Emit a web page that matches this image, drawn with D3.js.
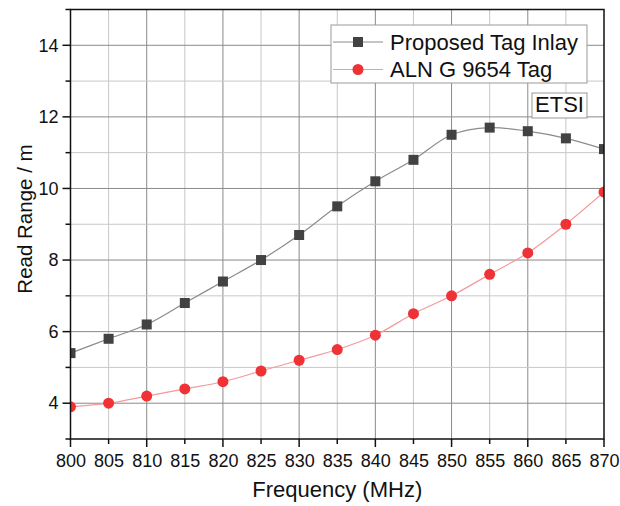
<!DOCTYPE html>
<html>
<head>
<meta charset="utf-8">
<script src="https://cdn.jsdelivr.net/npm/d3@7"></script>
<style>
  body { margin: 0; background: #fff; }
  svg text { font-family: "Liberation Sans", Arial, sans-serif; fill: #111; }
</style>
</head>
<body>
<div id="graph"></div>
<script>
const freqs = [800, 805, 810, 815, 820, 825, 830, 835, 840, 845, 850, 855, 860, 865, 870];
const proposedTag = [5.4, 5.8, 6.2, 6.8, 7.4, 8.0, 8.7, 9.5, 10.2, 10.8, 11.5, 11.7, 11.6, 11.4, 11.1];
const alnTag = [3.9, 4.0, 4.2, 4.4, 4.6, 4.9, 5.2, 5.5, 5.9, 6.5, 7.0, 7.6, 8.2, 9.0, 9.9];
const seriesNames = ["Proposed Tag Inlay", "ALN G 9654 Tag"];
const xTickValues = d3.range(800, 871, 5);
const yTickValues = d3.range(4, 15, 2);

const margin = { top: 9.5, right: 16, bottom: 67, left: 70.5 };
const W = 620, H = 506;
const width = W - margin.left - margin.right;
const height = H - margin.top - margin.bottom;

const svg = d3.select("#graph").append("svg")
    .attr("width", W).attr("height", H);
const g = svg.append("g").attr("transform", `translate(${margin.left},${margin.top})`);

const x = d3.scaleLinear().domain([800, 870]).range([0, width]);
const y = d3.scaleLinear().domain([3, 15]).range([height, 0]);

// grid: minor lighter, major darker
const xGrid = d3.range(805, 870, 5);
g.append("g").selectAll("line").data(xGrid).join("line")
    .attr("x1", d => x(d)).attr("x2", d => x(d))
    .attr("y1", 0).attr("y2", height)
    .attr("stroke", d => d % 10 === 0 ? "#8a8a8a" : "#c8c8c8")
    .attr("stroke-width", 1);
const yGrid = d3.range(4, 15, 1);
g.append("g").selectAll("line").data(yGrid).join("line")
    .attr("x1", 0).attr("x2", width)
    .attr("y1", d => y(d)).attr("y2", d => y(d))
    .attr("stroke", d => d % 2 === 0 ? "#8a8a8a" : "#c8c8c8")
    .attr("stroke-width", 1);

// axes
const xAxis = g.append("g").attr("transform", `translate(0,${height})`)
    .call(d3.axisBottom(x).tickValues(xTickValues).tickSize(0).tickPadding(15).tickFormat(d3.format("d")));
xAxis.select(".domain").remove();
xAxis.selectAll("text").attr("font-size", 18);
g.append("g").selectAll("line").data(xTickValues).join("line")
    .attr("x1", d => x(d)).attr("x2", d => x(d))
    .attr("y1", height).attr("y2", d => height + (d % 10 === 0 ? 8 : 5))
    .attr("stroke", "#111").attr("stroke-width", 1.5);

const yAxis = g.append("g")
    .call(d3.axisLeft(y).tickValues(yTickValues).tickSize(0).tickPadding(12).tickFormat(d3.format("d")));
yAxis.select(".domain").remove();
yAxis.selectAll("text").attr("font-size", 18);
g.append("g").selectAll("line").data(d3.range(3, 16, 1)).join("line")
    .attr("x1", 0).attr("x2", d => d % 2 === 0 ? -8 : -5)
    .attr("y1", d => y(d)).attr("y2", d => y(d))
    .attr("stroke", "#111").attr("stroke-width", 1.5);

// clip
svg.append("defs").append("clipPath").attr("id", "clip")
    .append("rect").attr("width", width).attr("height", height);
const plot = g.append("g").attr("clip-path", "url(#clip)");

const line = d3.line().x((d, i) => x(freqs[i])).y(d => y(d)).curve(d3.curveCatmullRom.alpha(0.5));

plot.append("path").datum(alnTag)
    .attr("fill", "none").attr("stroke", "#f59a9a").attr("stroke-width", 1.2)
    .attr("d", line);
plot.append("path").datum(proposedTag)
    .attr("fill", "none").attr("stroke", "#8c8c8c").attr("stroke-width", 1.2)
    .attr("d", line);

plot.append("g").selectAll("rect").data(proposedTag).join("rect")
    .attr("x", (d, i) => x(freqs[i]) - 5).attr("y", d => y(d) - 5)
    .attr("width", 10).attr("height", 10)
    .attr("fill", "#424242");
plot.append("g").selectAll("circle").data(alnTag).join("circle")
    .attr("cx", (d, i) => x(freqs[i])).attr("cy", d => y(d))
    .attr("r", 5.5)
    .attr("fill", "#ef3236");

// frame
g.append("rect").attr("width", width).attr("height", height)
    .attr("fill", "none").attr("stroke", "#111").attr("stroke-width", 1.5);

// legend
const lg = svg.append("g").attr("transform", "translate(331,25)");
lg.append("rect").attr("width", 256).attr("height", 58)
    .attr("fill", "#fff").attr("stroke", "#999").attr("stroke-width", 1);
const rows = [
  { name: seriesNames[0], color: "#8c8c8c", mark: "square" },
  { name: seriesNames[1], color: "#f59a9a", mark: "circle" }
];
rows.forEach((r, i) => {
  const cy = 17 + i * 27.5;
  lg.append("line").attr("x1", 2).attr("x2", 52).attr("y1", cy).attr("y2", cy)
      .attr("stroke", r.color).attr("stroke-width", 1.2);
  if (r.mark === "square") {
    lg.append("rect").attr("x", 22).attr("y", cy - 5).attr("width", 10).attr("height", 10).attr("fill", "#424242");
  } else {
    lg.append("circle").attr("cx", 27).attr("cy", cy).attr("r", 5.5).attr("fill", "#ef3236");
  }
  lg.append("text").attr("x", 59).attr("y", cy + 7.5)
      .attr("font-size", 22).text(r.name);
});

// ETSI box
const eb = svg.append("g").attr("transform", "translate(532,93)");
eb.append("rect").attr("width", 55).attr("height", 25)
    .attr("fill", "#fff").attr("stroke", "#999").attr("stroke-width", 1);
eb.append("text").attr("x", 27.5).attr("y", 18.5).attr("text-anchor", "middle")
    .attr("font-size", 22).text("ETSI");

// axis titles
svg.append("text").attr("x", margin.left + width / 2).attr("y", 497)
    .attr("text-anchor", "middle").attr("font-size", 22).text("Frequency (MHz)");
svg.append("text").attr("transform", `translate(32,219) rotate(-90)`)
    .attr("text-anchor", "middle").attr("font-size", 20.5).text("Read Range / m");
</script>
</body>
</html>
